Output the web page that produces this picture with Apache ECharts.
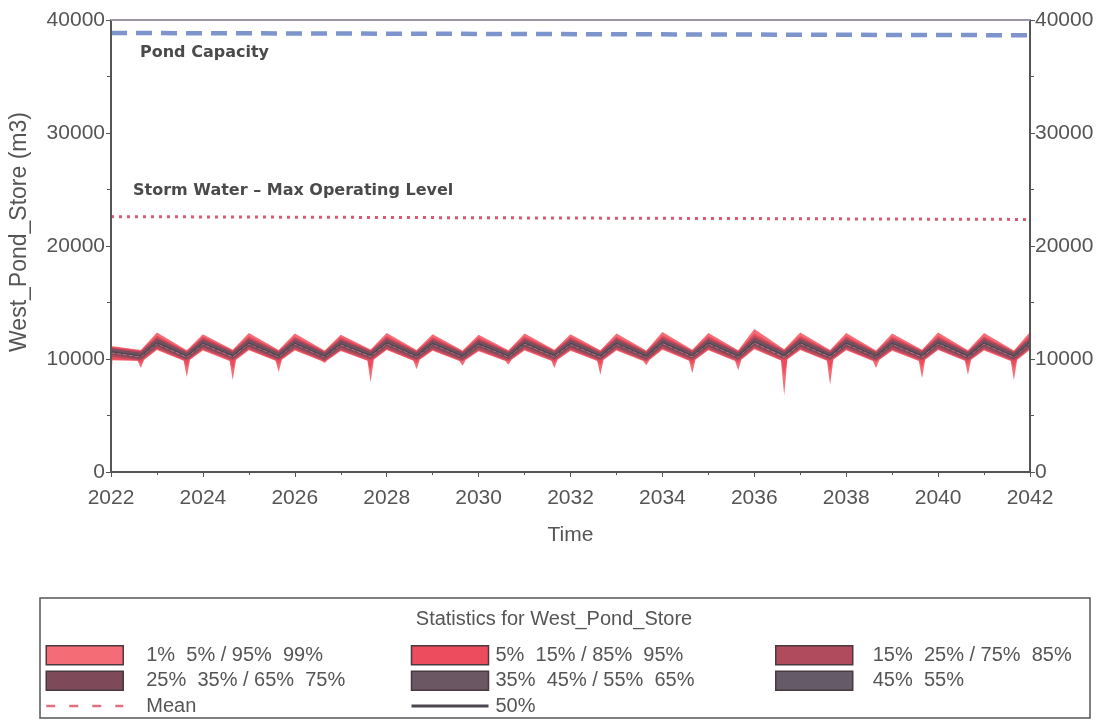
<!DOCTYPE html>
<html>
<head>
<meta charset="utf-8">
<script src="https://cdn.jsdelivr.net/npm/echarts@6/dist/echarts.min.js"></script>
<style>
  html, body { margin: 0; padding: 0; background: #fff; }
  #main { width: 1108px; height: 722px; }
</style>
</head>
<body>
<div id="main"></div>
<script>
// time points: year boundary (peak) and mid-season trough
var times = [2022, 2022.65, 2023, 2023.65, 2024, 2024.65, 2025, 2025.65, 2026, 2026.65,
  2027, 2027.65, 2028, 2028.65, 2029, 2029.65, 2030, 2030.65, 2031, 2031.65,
  2032, 2032.65, 2033, 2033.65, 2034, 2034.65, 2035, 2035.65, 2036, 2036.65,
  2037, 2037.65, 2038, 2038.65, 2039, 2039.65, 2040, 2040.65, 2041, 2041.65, 2042];

// finer time points for the low percentiles (narrow dips at troughs)
var timesLow = [2022, 2022.03, 2022.58, 2022.65, 2022.72, 2023, 2023.58, 2023.65, 2023.72,
  2024, 2024.58, 2024.65, 2024.72, 2025, 2025.58, 2025.65, 2025.72,
  2026, 2026.58, 2026.65, 2026.72, 2027, 2027.58, 2027.65, 2027.72,
  2028, 2028.58, 2028.65, 2028.72, 2029, 2029.58, 2029.65, 2029.72,
  2030, 2030.58, 2030.65, 2030.72, 2031, 2031.58, 2031.65, 2031.72,
  2032, 2032.58, 2032.65, 2032.72, 2033, 2033.58, 2033.65, 2033.72,
  2034, 2034.58, 2034.65, 2034.72, 2035, 2035.58, 2035.65, 2035.72,
  2036, 2036.58, 2036.65, 2036.72, 2037, 2037.58, 2037.65, 2037.72,
  2038, 2038.58, 2038.65, 2038.72, 2039, 2039.58, 2039.65, 2039.72,
  2040, 2040.58, 2040.65, 2040.72, 2041, 2041.58, 2041.65, 2041.72, 2042];

var p99 = [11150, 10800, 12350, 10770, 12200, 10820, 12300, 10800, 12250, 10760, 12150, 10840, 12300, 10790, 12200, 10760, 12150, 10780, 12250, 10820, 12200, 10770, 12250, 10760, 12400, 10820, 12300, 10780, 12650, 10860, 12350, 10790, 12300, 10760, 12250, 10820, 12350, 10780, 12300, 10760, 12400];
var p95 = [11080, 10730, 12080, 10700, 12000, 10750, 12030, 10730, 12000, 10690, 11950, 10770, 12060, 10720, 11970, 10690, 11930, 10710, 12010, 10750, 11980, 10700, 12000, 10690, 12110, 10750, 12030, 10710, 12250, 10790, 12060, 10720, 12030, 10690, 11990, 10750, 12060, 10710, 12020, 10690, 12110];
var p85 = [11000, 10680, 11920, 10650, 11850, 10700, 11880, 10680, 11850, 10640, 11800, 10720, 11900, 10670, 11820, 10640, 11780, 10660, 11860, 10700, 11830, 10650, 11850, 10640, 11950, 10700, 11880, 10660, 12050, 10740, 11900, 10670, 11880, 10640, 11840, 10700, 11900, 10660, 11870, 10640, 11950];
var p75 = [10900, 10560, 11760, 10540, 11700, 10580, 11720, 10560, 11700, 10530, 11650, 10600, 11740, 10560, 11670, 10530, 11640, 10550, 11710, 10580, 11680, 10540, 11700, 10530, 11780, 10580, 11720, 10550, 11850, 10610, 11740, 10560, 11720, 10530, 11690, 10580, 11740, 10550, 11710, 10530, 11780];
var p65 = [10800, 10430, 11610, 10410, 11560, 10450, 11580, 10430, 11560, 10400, 11510, 10470, 11600, 10430, 11530, 10400, 11500, 10420, 11570, 10450, 11540, 10410, 11560, 10400, 11630, 10450, 11580, 10420, 11690, 10480, 11600, 10430, 11580, 10400, 11550, 10450, 11600, 10420, 11570, 10400, 11630];
var p55 = [10700, 10330, 11500, 10310, 11450, 10350, 11470, 10330, 11450, 10300, 11400, 10370, 11490, 10330, 11420, 10300, 11390, 10320, 11460, 10350, 11430, 10310, 11450, 10300, 11520, 10350, 11470, 10320, 11570, 10380, 11490, 10330, 11470, 10300, 11440, 10350, 11490, 10320, 11460, 10300, 11520];
var p50 = [10650, 10280, 11450, 10260, 11400, 10300, 11420, 10280, 11400, 10250, 11350, 10320, 11440, 10280, 11370, 10250, 11340, 10270, 11410, 10300, 11380, 10260, 11400, 10250, 11470, 10300, 11420, 10270, 11520, 10330, 11440, 10280, 11420, 10250, 11390, 10300, 11440, 10270, 11410, 10250, 11470];
var p45 = [10600, 10230, 11400, 10210, 11350, 10250, 11370, 10230, 11350, 10200, 11300, 10270, 11390, 10230, 11320, 10200, 11290, 10220, 11360, 10250, 11330, 10210, 11350, 10200, 11420, 10250, 11370, 10220, 11470, 10280, 11390, 10230, 11370, 10200, 11340, 10250, 11390, 10220, 11360, 10200, 11420];
var p35 = [10500, 10130, 11290, 10110, 11240, 10150, 11260, 10130, 11240, 10100, 11190, 10170, 11280, 10130, 11210, 10100, 11180, 10120, 11250, 10150, 11220, 10110, 11240, 10100, 11310, 10150, 11260, 10120, 11360, 10180, 11280, 10130, 11260, 10100, 11230, 10150, 11280, 10120, 11250, 10100, 11310];
var p25 = [10400, 10000, 11140, 9980, 11090, 10020, 11110, 10000, 11090, 9970, 11040, 10040, 11130, 10000, 11060, 9970, 11030, 9990, 11100, 10020, 11070, 9980, 11090, 9970, 11160, 10020, 11110, 9990, 11210, 10050, 11130, 10000, 11110, 9970, 11080, 10020, 11130, 9990, 11100, 9970, 11160];
var p15 = [10200, 9880, 10950, 9860, 10900, 9900, 10920, 9880, 10900, 9850, 10850, 9920, 10940, 9880, 10870, 9850, 10840, 9870, 10910, 9900, 10880, 9860, 10900, 9850, 10970, 9900, 10920, 9870, 11020, 9930, 10940, 9880, 10920, 9850, 10890, 9900, 10940, 9870, 10910, 9850, 10970];
var meanVals = [10550, 10200, 11380, 10150, 11320, 10180, 11350, 10200, 11330, 10170, 11270, 10200, 11360, 10200, 11300, 10180, 11270, 10190, 11330, 10200, 11300, 10170, 11330, 10180, 11390, 10190, 11340, 10180, 11430, 10150, 11360, 10170, 11340, 10180, 11310, 10180, 11360, 10170, 11330, 10160, 11390];

// on timesLow
var p5 = [8600, 9950, 9880, 9600, 9980,
  10880, 9900, 9300, 10000, 10830, 9890, 9100, 9990, 10850, 9900, 9500, 10000,
  10830, 9880, 9780, 9980, 10780, 9900, 9000, 10010, 10870, 9900, 9600, 10000,
  10800, 9880, 9780, 9990, 10770, 9890, 9780, 10000, 10840, 9910, 9650, 10010,
  10810, 9890, 9400, 9990, 10830, 9880, 9780, 9980, 10900, 9900, 9450, 10010,
  10850, 9890, 9600, 10000, 10950, 9920, 8600, 10020, 10870, 9900, 9000, 10000,
  10850, 9880, 9760, 9980, 10820, 9890, 9300, 10000, 10870, 9900, 9450, 10000,
  10840, 9880, 9200, 9980, 10900];
var p1 = [7700, 9880, 9820, 9200, 9920,
  10800, 9840, 8400, 9930, 10750, 9830, 8150, 9920, 10770, 9840, 8850, 9930,
  10750, 9820, 9650, 9910, 10700, 9840, 7950, 9940, 10790, 9840, 9100, 9930,
  10720, 9820, 9400, 9920, 10690, 9830, 9500, 9930, 10760, 9850, 9200, 9940,
  10730, 9830, 8600, 9920, 10750, 9820, 9450, 9910, 10820, 9840, 8750, 9940,
  10770, 9830, 9000, 9930, 10870, 9860, 6800, 9950, 10790, 9840, 7700, 9930,
  10770, 9820, 9200, 9910, 10740, 9830, 8300, 9930, 10790, 9840, 8600, 9930,
  10760, 9820, 8150, 9910, 10820];

// limit lines
var limitTimes = [2022, 2042];
var capacityVals = [38850, 38650];
var stormVals = [22600, 22350];

var bandNames = ['1%  5% / 95%  99%', '5%  15% / 85%  95%', '15%  25% / 75%  85%',
  '25%  35% / 65%  75%', '35%  45% / 55%  65%', '45%  55%'];
var bandColors = ['#f36c76', '#ec4c5d', '#b04b5e', '#7e4a5a', '#6b5664', '#655a67'];

var FONT = 'Liberation Sans, Arial, sans-serif';
var GREY = '#555';

function pairs(ts, vs) {
  return ts.map(function (t, i) { return [t, vs[i]]; });
}

// each boundary is filled down to the axis; later series paint over earlier ones
function fill(name, ts, vs, color) {
  return {
    name: name,
    type: 'line',
    data: pairs(ts, vs),
    symbol: 'none',
    silent: true,
    color: color,
    itemStyle: { color: color },
    lineStyle: { width: 0 },
    areaStyle: { color: color, opacity: 1, origin: 'start' },
    z: 2
  };
}

var series = [
  fill(bandNames[0], times, p99, bandColors[0]),
  fill(bandNames[1], times, p95, bandColors[1]),
  fill(bandNames[2], times, p85, bandColors[2]),
  fill(bandNames[3], times, p75, bandColors[3]),
  fill(bandNames[4], times, p65, bandColors[4]),
  fill(bandNames[5], times, p55, bandColors[5]),
  fill(bandNames[4], times, p45, bandColors[4]),
  fill(bandNames[3], times, p35, bandColors[3]),
  fill(bandNames[2], times, p25, bandColors[2]),
  fill(bandNames[1], times, p15, bandColors[1]),
  fill(bandNames[0], timesLow, p5, bandColors[0]),
  fill('below', timesLow, p1, '#ffffff'),
  {
    name: 'Mean', type: 'line', data: pairs(times, meanVals), symbol: 'none',
    color: '#e0707e', lineStyle: { color: '#e0707e', width: 1, type: 'dashed' }, z: 3
  },
  {
    name: '50%', type: 'line', data: pairs(times, p50), symbol: 'none',
    color: '#4d4650', lineStyle: { color: '#4d4650', width: 1.2 }, z: 3
  },
  {
    name: 'Pond Capacity', type: 'line', data: pairs(limitTimes, capacityVals), symbol: 'none',
    lineStyle: { color: '#7d95cc', width: 4.5, type: [16, 9] }, z: 3
  },
  {
    name: 'Storm Water - Max Operating Level', type: 'line', data: pairs(limitTimes, stormVals), symbol: 'none',
    lineStyle: { color: '#dd5a6e', width: 3, type: [3, 5] }, z: 3
  }
];

function yAx(pos, margin) {
  return {
    type: 'value', position: pos, min: 0, max: 40000, interval: 10000, z: 10,
    axisLine: { show: true, lineStyle: { color: GREY, width: 2 } },
    axisTick: { show: true, length: 5, lineStyle: { color: GREY } },
    minorTick: { show: true, splitNumber: 2, length: 4, lineStyle: { color: GREY } },
    splitLine: { show: false },
    axisLabel: { color: GREY, fontSize: 21, fontFamily: FONT, margin: margin,
      formatter: function (v) { return String(v); } }
  };
}

var leftAxis = yAx('left', 6);
leftAxis.name = 'West_Pond_Store (m3)';
leftAxis.nameLocation = 'middle';
leftAxis.nameGap = 80;
leftAxis.nameTextStyle = { color: GREY, fontSize: 23, fontFamily: FONT, padding: [0, 0, 0, 28] };

var legendText = { color: GREY, fontSize: 20, fontFamily: FONT };
function bandItem(i) {
  return { name: bandNames[i], icon: 'rect', itemStyle: { borderColor: '#4a3a40', borderWidth: 1.5 } };
}
// line entries: hide the marker, keep the line
var hiddenMarker = { color: 'rgba(0,0,0,0)', borderColor: 'rgba(0,0,0,0)', borderWidth: 0, opacity: 0 };
function legendCol(left, pad, items) {
  return {
    left: left, top: 645, orient: 'vertical', padding: 0,
    itemWidth: 77, itemHeight: 19, itemGap: 5, selectedMode: false,
    textStyle: Object.assign({ padding: [0, 0, 0, pad] }, legendText),
    data: items
  };
}

var option = {
  animation: false,
  backgroundColor: '#fff',
  grid: { left: 111, right: 78, top: 20, bottom: 250, containLabel: false },
  xAxis: [
    {
      type: 'value', min: 2022, max: 2042, interval: 2, z: 10,
      axisLine: { show: true, onZero: false, lineStyle: { color: GREY, width: 2 } },
      axisTick: { show: true, length: 5, lineStyle: { color: GREY } },
      minorTick: { show: true, splitNumber: 2, length: 3, lineStyle: { color: GREY } },
      splitLine: { show: false },
      axisLabel: { color: GREY, fontSize: 21, fontFamily: FONT, margin: 16,
        formatter: function (v) { return String(v); } },
      name: 'Time', nameLocation: 'middle', nameGap: 53,
      nameTextStyle: { color: GREY, fontSize: 21, fontFamily: FONT }
    },
    {
      type: 'value', position: 'top', min: 2022, max: 2042, z: 10,
      axisLine: { show: true, onZero: false, lineStyle: { color: '#9d97a5', width: 2 } },
      axisTick: { show: false }, axisLabel: { show: false }, splitLine: { show: false }
    }
  ],
  yAxis: [leftAxis, yAx('right', 5)],
  legend: [
    legendCol(45, 18, [bandItem(0), bandItem(3),
      { name: 'Mean', itemStyle: hiddenMarker, lineStyle: { width: 2.5, type: [9, 14] } }]),
    legendCol(410, 2, [bandItem(1), bandItem(4),
      { name: '50%', itemStyle: hiddenMarker, lineStyle: { width: 3 } }]),
    legendCol(775, 15, [bandItem(2), bandItem(5)])
  ],
  graphic: [
    {
      type: 'rect', z: 0, silent: true,
      shape: { x: 40, y: 598, width: 1050, height: 120 },
      style: { fill: 'none', stroke: GREY, lineWidth: 1.5 }
    },
    {
      type: 'text', left: 'center', top: 609, silent: true,
      style: { text: 'Statistics for West_Pond_Store', fill: GREY, fontSize: 20, fontFamily: FONT }
    },
    {
      type: 'text', left: 140, top: 45, silent: true, z: 20,
      style: { text: 'Pond Capacity', fill: '#4a4a4a', fontSize: 16, fontWeight: 'bold', fontFamily: 'DejaVu Sans' }
    },
    {
      type: 'text', left: 133, top: 183, silent: true, z: 20,
      style: { text: 'Storm Water \u2013 Max Operating Level', fill: '#4a4a4a', fontSize: 16, fontWeight: 'bold', fontFamily: 'DejaVu Sans' }
    }
  ],
  series: series
};

var chart = echarts.init(document.getElementById('main'));
chart.setOption(option);
</script>
</body>
</html>
